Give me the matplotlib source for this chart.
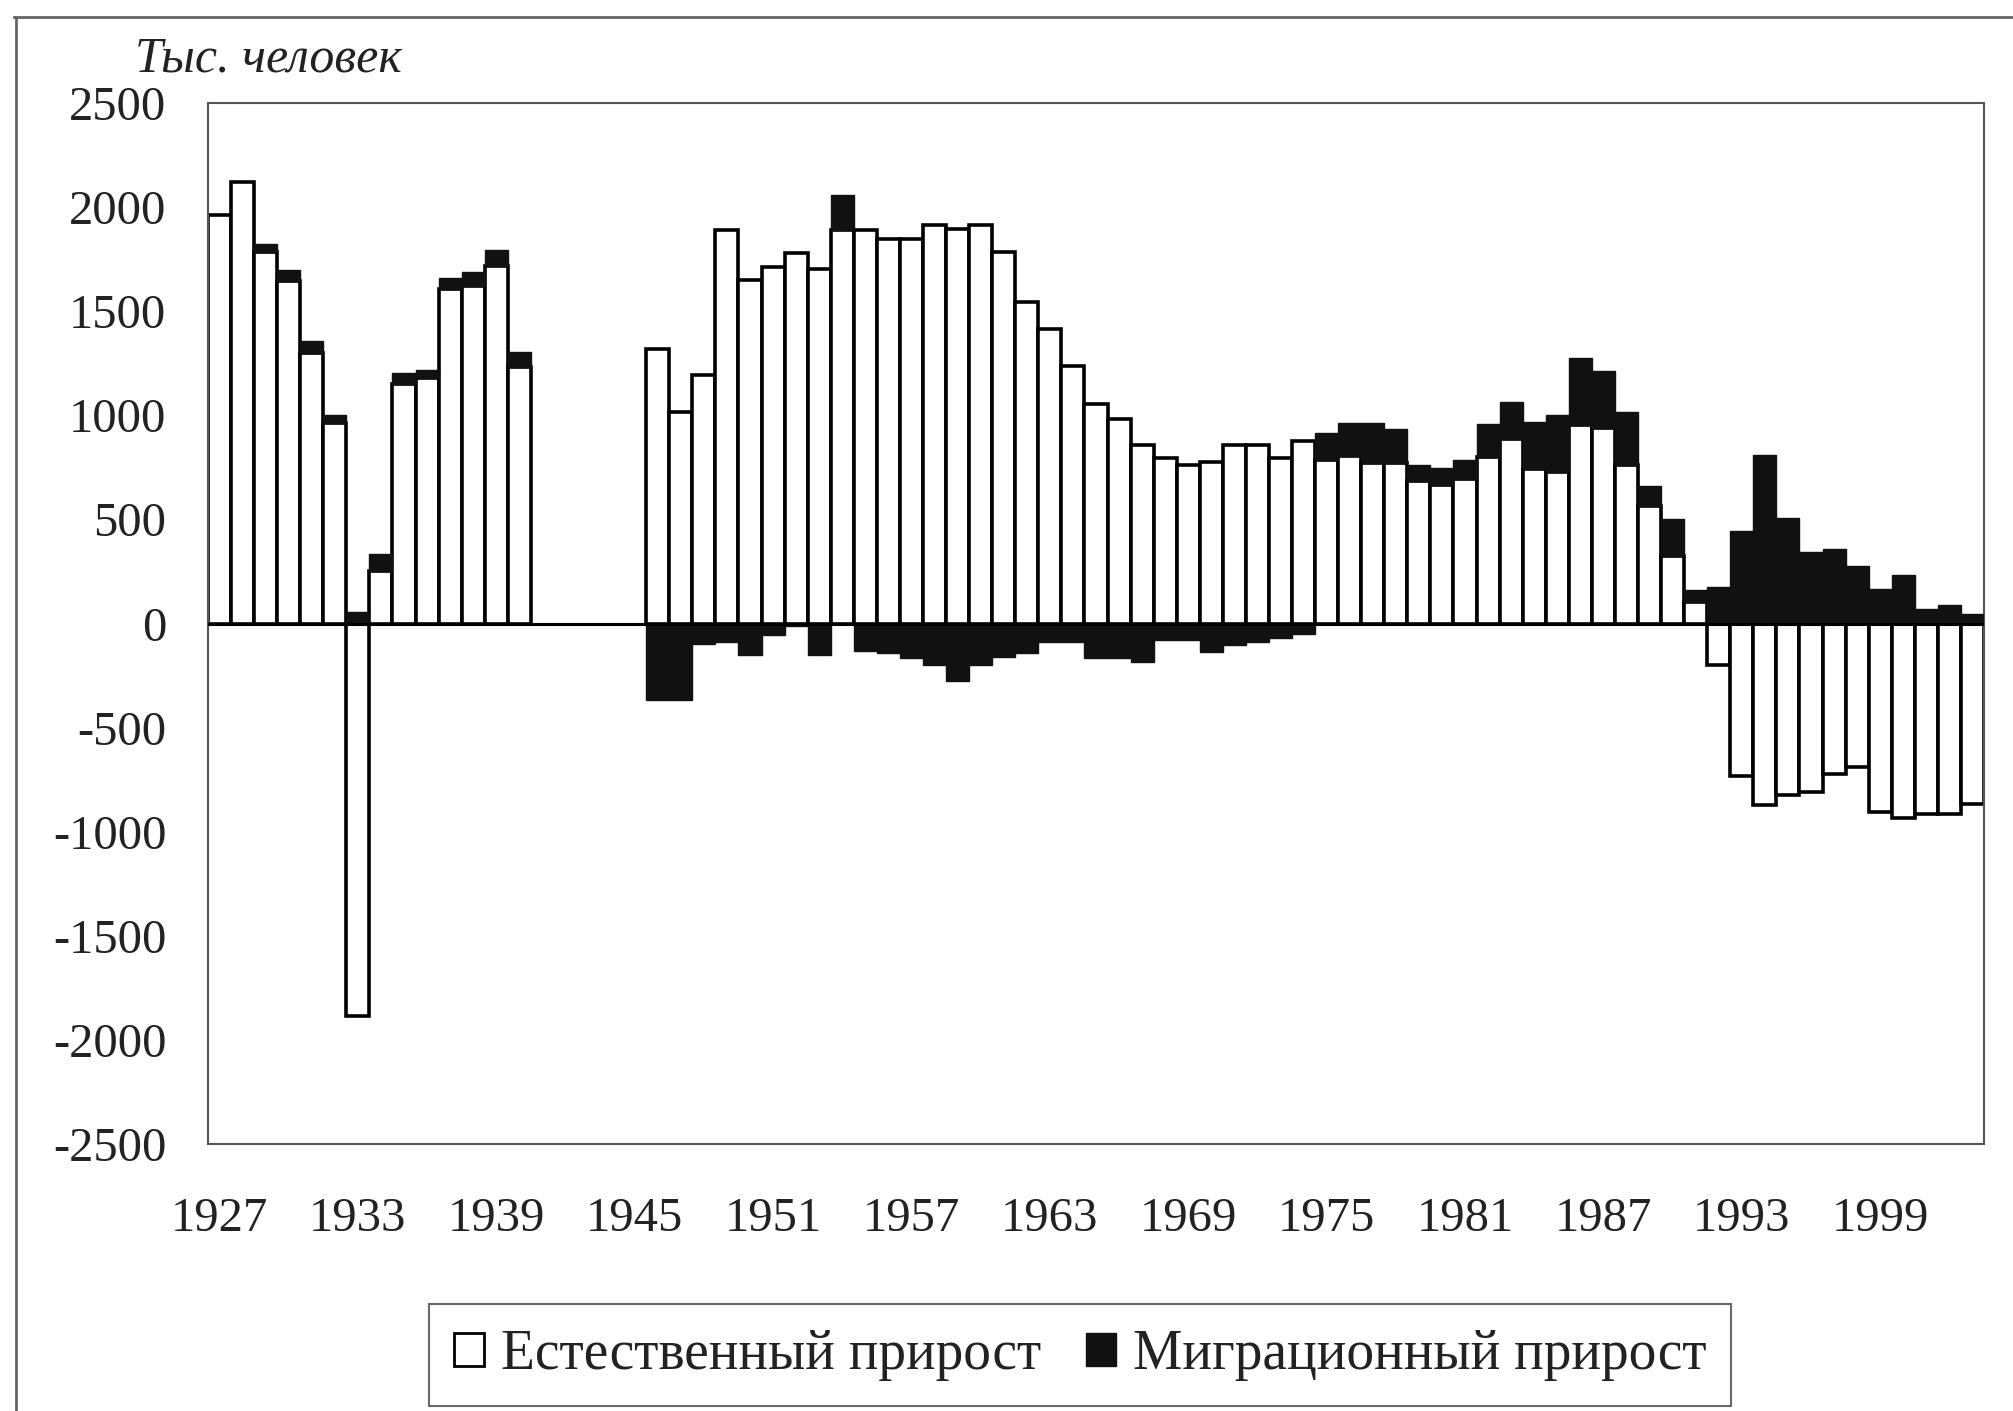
import numpy as np
import matplotlib
matplotlib.use("Agg")
import matplotlib.pyplot as plt
from matplotlib.patches import Patch
from matplotlib.lines import Line2D

plt.rcParams['font.family'] = ['Liberation Serif', 'DejaVu Serif']

years = list(range(1927, 2004))

natural = [
    1960, 2120, 1785, 1645, 1300, 965, -1885, 250, 1150, 1180, 1605, 1620, 1715, 1230,   # 1927-1940
    np.nan, np.nan, np.nan, np.nan, np.nan,                                             # 1941-1945
    1318, 1016, 1194, 1889, 1651, 1711, 1781, 1702, 1892, 1889,                         # 1946-1955
    1845, 1845, 1913, 1897, 1913, 1786, 1543, 1413, 1235, 1056,                         # 1956-1965
    984, 857, 794, 762, 778, 857, 857, 794, 878, 786,                                   # 1966-1975
    805, 770, 770, 683, 667, 695, 800, 884, 741, 730,                                   # 1976-1985
    952, 937, 762, 564, 326, 103, -198, -730, -873, -825,                               # 1986-1995
    -810, -725, -690, -905, -936, -913, -913, -865,                                     # 1996-2003
]

migration = [
    0, 0, 40, 55, 55, 38, 55, 85, 55, 40, 55, 70, 80, 75,                               # 1927-1940
    np.nan, np.nan, np.nan, np.nan, np.nan,                                             # 1941-1945
    -365, -365, -100, -87, -150, -55, -10, -150, 168, -130,                             # 1946-1955
    -143, -167, -198, -278, -198, -160, -140, -87, -87, -167,                           # 1956-1965
    -167, -183, -80, -80, -135, -103, -87, -70, -48, 130,                               # 1966-1975
    158, 193, 162, 79, 79, 90, 160, 180, 227, 270,                                      # 1976-1985
    323, 277, 254, 95, 174, 56, 175, 445, 810, 508,                                     # 1986-1995
    345, 357, 278, 167, 233, 71, 87, 48,                                                # 1996-2003
]

yticks = [2500, 2000, 1500, 1000, 500, 0, -500, -1000, -1500, -2000, -2500]
xtick_years = list(range(1927, 2000, 6))

label_nat = "Естественный прирост"
label_mig = "Миграционный прирост"
ylabel = "Тыс. человек"

nat = np.array(natural, dtype=float)
mig = np.array(migration, dtype=float)
yrs = np.array(years)

# migration stacks on natural when both have the same sign
mig_bottom = np.where(np.sign(mig) == np.sign(nat), nat, 0.0)

fig = plt.figure(figsize=(20.13, 14.11), dpi=100)
ax = fig.add_axes([0.1033, 0.1892, 0.8823, 0.7378])

ax.bar(yrs, nat, width=1.0, color='white', edgecolor='black', linewidth=2.6, zorder=2)
ax.bar(yrs, mig, width=1.0, bottom=mig_bottom, color='#111111', edgecolor='#111111',
       linewidth=1.0, zorder=3)
ax.axhline(0, color='black', linewidth=2.2, zorder=4)

ax.set_xlim(1926.5, 2003.5)
ax.set_ylim(-2500, 2500)
ax.set_yticks(yticks)
ax.set_yticklabels([str(v) for v in yticks])
ax.set_xticks(xtick_years)
ax.set_xticklabels([str(y) for y in xtick_years])
ax.tick_params(axis='both', length=0, labelsize=35, colors='#222222')
ax.tick_params(axis='y', pad=30)
ax.tick_params(axis='x', pad=38)
for s in ax.spines.values():
    s.set_color('#555555')
    s.set_linewidth(1.5)

fig.text(0.067, 0.958, ylabel, fontsize=36, style='italic', color='#222222',
         ha='left', va='center')

handles = [Patch(facecolor='white', edgecolor='black', linewidth=2.0, label=label_nat),
           Patch(facecolor='#111111', edgecolor='#111111', label=label_mig)]
leg = fig.legend(handles=handles, loc='center', bbox_to_anchor=(0.5365, 0.0395),
                 ncol=2, fontsize=40, frameon=True, fancybox=False,
                 handlelength=0.55, handleheight=0.55, handletextpad=0.3,
                 columnspacing=0.8, borderpad=0.45, borderaxespad=0)
leg.get_frame().set_edgecolor('#444444')
leg.get_frame().set_linewidth(1.5)
for t in leg.get_texts():
    t.set_color('#222222')

# outer frame (top and left edges visible in the scan)
fig.add_artist(Line2D([0.007, 1.0], [0.988, 0.988], transform=fig.transFigure,
                      color='#666666', linewidth=2.0))
fig.add_artist(Line2D([0.008, 0.008], [0.988, 0.0], transform=fig.transFigure,
                      color='#666666', linewidth=2.0))

fig.savefig("out.png", dpi=100, facecolor='white')
